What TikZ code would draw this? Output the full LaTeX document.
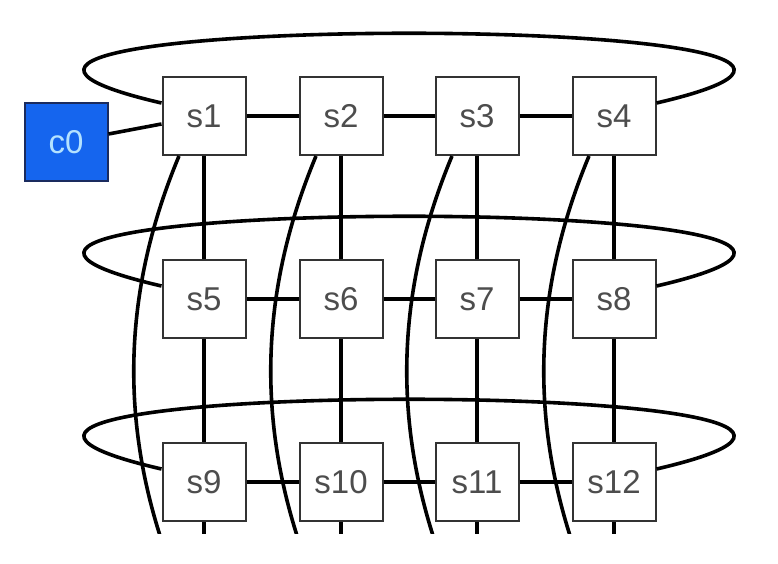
\documentclass[tikz,border=0pt]{standalone}
\usepackage{fontspec}
\setmainfont{Liberation Sans}
\definecolor{boxgray}{HTML}{333333}
\definecolor{textgray}{HTML}{4D4D4D}
\definecolor{cblue}{HTML}{1565EE}
\definecolor{cborder}{HTML}{1A2B5E}
\definecolor{ctext}{HTML}{B4E2FF}

\begin{document}
\begin{tikzpicture}
        [x=1pt,y=-1pt,every node/.style={draw=boxgray,line width=2pt,shape=rectangle,fill=white,inner sep=0,minimum width=83pt,minimum height=78pt,text=textgray,font=\fontsize{33}{36}\selectfont},
         link/.style={line width=3.6pt}]

        \useasboundingbox (0,0) rectangle (778,564);
        \begin{scope}
        \clip (0,0) rectangle (778,533);

        \node[fill=cblue,draw=cborder,text=ctext] (c0) at (66, 142) {c0};
        \node (s1) at (204, 116) {s1};
        \node (s2) at (341, 116) {s2};
        \node (s3) at (477, 116) {s3};
        \node (s4) at (614, 116) {s4};
        \node (s5) at (204, 299) {s5};
        \node (s6) at (341, 299) {s6};
        \node (s7) at (477, 299) {s7};
        \node (s8) at (614, 299) {s8};
        \node (s9) at (204, 482) {s9};
        \node (s10) at (341, 482) {s10};
        \node (s11) at (477, 482) {s11};
        \node (s12) at (614, 482) {s12};

        \coordinate (w1) at (180, 590);
        \coordinate (w2) at (317, 590);
        \coordinate (w3) at (453, 590);
        \coordinate (w4) at (590, 590);
        \coordinate (d9) at (204, 560);
        \coordinate (d10) at (341, 560);
        \coordinate (d11) at (477, 560);
        \coordinate (d12) at (614, 560);

        \draw[link] (c0) -- (s1);
        \draw[link] (s1) -- (s2);
        \draw[link] (s2) -- (s3);
        \draw[link] (s3) -- (s4);
        \draw[link] (s5) -- (s6);
        \draw[link] (s6) -- (s7);
        \draw[link] (s7) -- (s8);
        \draw[link] (s9) -- (s10);
        \draw[link] (s10) -- (s11);
        \draw[link] (s11) -- (s12);
        \draw[link] (s1) -- (s5);
        \draw[link] (s2) -- (s6);
        \draw[link] (s3) -- (s7);
        \draw[link] (s4) -- (s8);
        \draw[link] (s5) -- (s9);
        \draw[link] (s6) -- (s10);
        \draw[link] (s7) -- (s11);
        \draw[link] (s8) -- (s12);
        \draw[link] (s9) -- (d9);
        \draw[link] (s10) -- (d10);
        \draw[link] (s11) -- (d11);
        \draw[link] (s12) -- (d12);
        \draw[link] (s1.163) .. controls +(-400,-93) and +(400,-93) .. (s4.17);
        \draw[link] (s5.163) .. controls +(-400,-93) and +(400,-93) .. (s8.17);
        \draw[link] (s9.163) .. controls +(-400,-93) and +(400,-93) .. (s12.17);
        \draw[link] (s1.238) .. controls +(-61,146) and +(-61,-146) .. (w1);
        \draw[link] (s2.238) .. controls +(-61,146) and +(-61,-146) .. (w2);
        \draw[link] (s3.238) .. controls +(-61,146) and +(-61,-146) .. (w3);
        \draw[link] (s4.238) .. controls +(-61,146) and +(-61,-146) .. (w4);
        \end{scope}
      \end{tikzpicture}
\end{document}
